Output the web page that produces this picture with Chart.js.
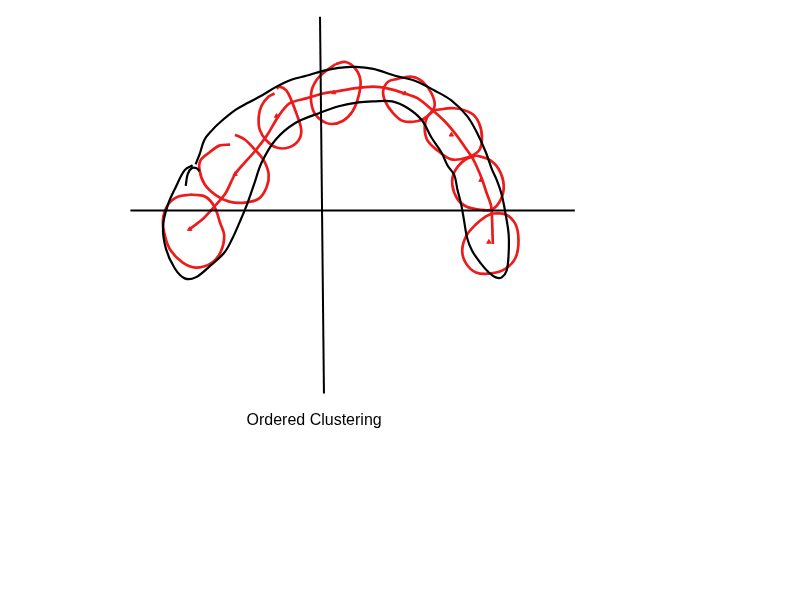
<!DOCTYPE html>
<html>
<head>
<meta charset="utf-8">
<script src="https://cdn.jsdelivr.net/npm/chart.js@4"></script>
<style>
  html, body { margin: 0; padding: 0; background: #fff; }
  #wrap { width: 800px; height: 600px; }
</style>
</head>
<body>
<div id="wrap"><canvas id="sketch"></canvas></div>
<script>
// units: offsets from the axes crossing, y up
const captionText = 'Ordered Clustering'
const caption = [-7, -214]

const horizontalAxis = [[-193, 0], [257, 0]]
const verticalAxis = [[-1, 197], [3, -186]]

// black band around the clusters
const outline = [
  [-127, 47], [-123, 57], [-118, 72], [-110, 82], [-103, 89], [-87, 102], [-75, 109], [-60, 117],
  [-45, 126], [-30, 133], [-15, 137], [2, 142], [18, 145], [35, 146], [53, 144], [75, 137],
  [95, 132], [115, 122], [132, 112], [148, 96], [158, 79], [167, 59], [173, 42], [178, 31],
  [183, 16], [187, -4], [190, -24], [190, -44], [188, -61], [183, -68], [177, -68], [170, -63],
  [162, -54], [153, -41], [148, -28], [145, -11], [142, 6], [138, 22], [135, 36], [128, 46],
  [122, 59], [112, 74], [102, 92], [88, 104], [72, 111], [53, 111], [38, 110], [18, 106],
  [-2, 99], [-26, 89], [-46, 72], [-60, 49], [-68, 26], [-75, 6], [-82, -11], [-90, -29],
  [-98, -43], [-112, -56], [-127, -68], [-138, -69], [-148, -59], [-157, -39], [-160, -16],
  [-155, 6], [-147, 24], [-138, 41], [-130, 46]
]
const hook = [[-137, 25], [-135, 37], [-131, 43], [-126, 43], [-123, 40]]

// red path through the cluster centres
const orderPath = [
  [-133, -19], [-120, -9], [-108, 4], [-97, 17], [-87, 37], [-77, 49], [-68, 59], [-55, 76],
  [-43, 96], [-32, 109], [-15, 114], [2, 119], [15, 121], [32, 124], [53, 126], [68, 124],
  [85, 119], [98, 114], [113, 102], [125, 91], [137, 77], [146, 64], [153, 54], [158, 44],
  [163, 32], [168, 17], [172, 6], [173, -3], [174, -34]
]

const clusters = [
  [[-128, 16], [-117, 14], [-108, 4], [-102, -13], [-98, -26], [-102, -43], [-112, -54], [-127, -58],
   [-140, -53], [-152, -41], [-158, -26], [-160, -9], [-155, 6], [-145, 14], [-133, 16], [-128, 16]],
  [[-92, 67], [-103, 66], [-113, 59], [-122, 51], [-123, 41], [-118, 27], [-107, 16], [-93, 9],
   [-77, 8], [-63, 12], [-55, 24], [-53, 37], [-58, 51], [-67, 62], [-77, 72], [-87, 77]],
  [[-47, 119], [-53, 116], [-60, 107], [-63, 96], [-62, 82], [-55, 71], [-45, 64], [-33, 64],
   [-23, 71], [-20, 82], [-25, 99], [-30, 112], [-35, 122], [-42, 126], [-45, 124]],
  [[15, 149], [25, 151], [35, 144], [40, 132], [38, 116], [32, 101], [22, 91], [10, 88],
   [0, 92], [-8, 102], [-10, 119], [-5, 132], [5, 142], [15, 149]],
  [[78, 134], [92, 136], [103, 131], [112, 119], [115, 106], [108, 96], [98, 91], [83, 91],
   [73, 99], [65, 111], [63, 122], [68, 131], [78, 134]],
  [[115, 102], [135, 104], [152, 99], [160, 89], [163, 74], [160, 61], [148, 54], [132, 52],
   [118, 61], [108, 71], [105, 84], [108, 96], [115, 102]],
  [[157, 56], [170, 52], [180, 42], [185, 26], [182, 11], [173, 1], [160, 1], [147, 4],
   [138, 12], [133, 26], [135, 39], [145, 51], [157, 56]],
  [[173, -3], [187, -4], [197, -14], [200, -31], [197, -48], [187, -59], [172, -64], [157, -63],
   [147, -54], [143, -41], [147, -26], [157, -14], [167, -6], [173, -3]]
]

const centreMarks = [[-133, -19], [-87, 37], [-45, 96], [13, 120], [85, 119], [132, 77], [162, 31], [170, -32]]

const RED = '#ee1b1b'
const toPts = arr => arr.map(([x, y]) => ({x, y}))

const stroke = (data, color, width, tension) => ({
  data: toPts(data),
  showLine: true,
  borderColor: color,
  borderWidth: width,
  pointRadius: 0,
  tension: tension,
  fill: false,
})

const captionPlugin = {
  id: 'caption',
  afterDatasetsDraw(chart) {
    const {ctx, scales} = chart
    ctx.save()
    ctx.fillStyle = '#000'
    ctx.font = '16px "Liberation Sans", Arial, sans-serif'
    ctx.textAlign = 'center'
    ctx.textBaseline = 'middle'
    ctx.fillText(captionText, scales.x.getPixelForValue(caption[0]), scales.y.getPixelForValue(caption[1]))
    ctx.restore()
  }
}

new Chart(document.getElementById('sketch'), {
  type: 'scatter',
  data: {
    datasets: [
      stroke(horizontalAxis, '#000', 2, 0),
      stroke(verticalAxis, '#000', 2, 0),
      stroke(outline, '#000', 2.2, 0.35),
      stroke(hook, '#000', 2.2, 0.35),
      ...clusters.map(c => stroke(c, RED, 2.7, 0.35)),
      stroke(orderPath, RED, 2.7, 0.3),
      {
        data: toPts(centreMarks),
        showLine: false,
        pointStyle: 'triangle',
        pointRadius: 2.5,
        backgroundColor: RED,
        borderColor: RED,
        borderWidth: 1,
      },
    ]
  },
  options: {
    responsive: true,
    maintainAspectRatio: false,
    animation: false,
    layout: {padding: 0},
    plugins: {
      legend: {display: false},
      tooltip: {enabled: false},
    },
    scales: {
      x: {type: 'linear', min: -320, max: 480, display: false},
      y: {type: 'linear', min: -391, max: 209, display: false},
    }
  },
  plugins: [captionPlugin]
})
</script>
</body>
</html>
